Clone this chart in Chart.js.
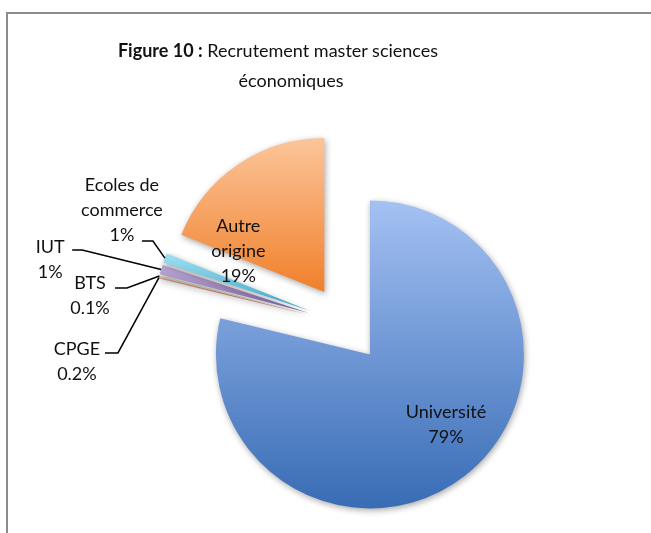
<!DOCTYPE html>
<html lang="fr">
<head>
<meta charset="UTF-8">
<title>Figure 10</title>
<style>
  body { margin: 0; background: #fff; font-family: 'Lato', sans-serif; }
  #wrap { position: relative; width: 651px; height: 533px; overflow: hidden; }
  #frame {
    position: absolute; left: 6px; top: 12px; width: 700px; height: 600px;
    border-left: 2px solid #8c8c8c; border-top: 2px solid #8c8c8c;
  }
  canvas { position: absolute; left: 0; top: 0; }
  .title {
    position: absolute; left: 0; text-align: center; white-space: nowrap;
    font-size: 18px; line-height: 20px; color: #111;
  }
</style>
<script src="https://cdn.jsdelivr.net/npm/chart.js"></script>
</head>
<body>
<div id="wrap">
  <div id="frame"></div>
  <canvas id="chartCanvas" width="651" height="533"></canvas>
  <div class="title" style="top:40px;width:556px"><b>Figure 10 :</b> Recrutement master sciences</div>
  <div class="title" style="top:70px;width:582px">économiques</div>
</div>

<script>
// data
const categories = ['Université', 'CPGE', 'BTS', 'IUT', 'Ecoles de commerce', 'Autre origine'];
const shares = [79, 0.2, 0.1, 1, 1, 19];
const nameLines = [['Université'], ['CPGE'], ['BTS'], ['IUT'], ['Ecoles de', 'commerce'], ['Autre', 'origine']];

// style
const topColors = ['#a4c1f3', '#eba6a4', '#cfe0a9', '#bcaad6', '#9fe0f4', '#fcc59a'];
const bottomColors = ['#386cb5', '#c0504d', '#9bbb59', '#7d60a0', '#3ba4c2', '#f0802b'];
const explode = 38.7;
const pieRadius = 154;
const labelFont = '18px Lato';
const lineGap = 25;
// inner labels: offset from the slice centre; outer labels: offset from the slice edge + leader elbow
const labelLayout = [
  { from: 'center', dx: 76, dy: 70.6 },
  { from: 'edge', dx: -82, dy: 83.8, leader: [[-54, 75.3], [-41, 75.3]] },
  { from: 'edge', dx: -69.4, dy: 19.6, leader: [[-44.4, 12.1], [-32.4, 12.1]] },
  { from: 'edge', dx: -111, dy: -9.6, leader: [[-89, -19.6], [-79, -19.6]] },
  { from: 'edge', dx: -43, dy: -47.6, leader: [[-23, -17], [-12, -17]] },
  { from: 'center', dx: -86, dy: -41 }
];

function arcBox(arc) {
  const { x, y, startAngle, endAngle, outerRadius: r } = arc;
  const ys = [y, y + Math.sin(startAngle) * r, y + Math.sin(endAngle) * r];
  let a = Math.ceil((startAngle - Math.PI / 2) / Math.PI) * Math.PI + Math.PI / 2;
  for (; a <= endAngle; a += Math.PI) ys.push(y + Math.sin(a) * r);
  return { top: Math.min(...ys), bottom: Math.max(...ys) };
}

const explodedPie = {
  id: 'explodedPie',
  afterDatasetUpdate(chart, args) {
    args.meta.data.forEach(arc => {
      const mid = (arc.startAngle + arc.endAngle) / 2;
      arc.x += Math.cos(mid) * explode;
      arc.y += Math.sin(mid) * explode;
    });
  },
  beforeDatasetsDraw(chart) {
    const ctx = chart.ctx;
    chart.getDatasetMeta(0).data.forEach((arc, i) => {
      const box = arcBox(arc);
      const g = ctx.createLinearGradient(0, box.top, 0, box.bottom);
      g.addColorStop(0, topColors[i]);
      g.addColorStop(1, bottomColors[i]);
      arc.options.backgroundColor = g;
    });
    ctx.save();
    ctx.shadowColor = 'rgba(0,0,0,0.35)';
    ctx.shadowBlur = 6;
    ctx.shadowOffsetX = 1;
    ctx.shadowOffsetY = 2;
  },
  afterDatasetsDraw(chart) {
    const ctx = chart.ctx;
    ctx.restore();
    ctx.save();
    ctx.font = labelFont;
    ctx.fillStyle = '#111';
    ctx.strokeStyle = '#000';
    ctx.lineWidth = 1.5;
    ctx.textAlign = 'center';
    ctx.textBaseline = 'middle';
    chart.getDatasetMeta(0).data.forEach((arc, i) => {
      const lay = labelLayout[i];
      const mid = (arc.startAngle + arc.endAngle) / 2;
      let ox = arc.x, oy = arc.y;
      if (lay.from === 'edge') {
        ox += Math.cos(mid) * arc.outerRadius;
        oy += Math.sin(mid) * arc.outerRadius;
      }
      const lines = nameLines[i].concat([shares[i] + '%']);
      const cx = ox + lay.dx;
      const cy = oy + lay.dy;
      lines.forEach((t, k) => {
        ctx.fillText(t, cx, cy + (k - (lines.length - 1) / 2) * lineGap);
      });
      if (lay.leader) {
        ctx.beginPath();
        ctx.moveTo(ox + lay.leader[0][0], oy + lay.leader[0][1]);
        ctx.lineTo(ox + lay.leader[1][0], oy + lay.leader[1][1]);
        ctx.lineTo(ox, oy);
        ctx.stroke();
      }
    });
    ctx.restore();
  }
};

new Chart(document.getElementById('chartCanvas').getContext('2d'), {
  type: 'pie',
  data: {
    labels: categories,
    datasets: [{
      data: shares,
      backgroundColor: bottomColors,
      borderWidth: 0
    }]
  },
  options: {
    responsive: false,
    animation: false,
    radius: pieRadius,
    layout: { padding: { left: 41, top: 115, right: 0, bottom: 0 } },
    plugins: {
      legend: { display: false },
      tooltip: { enabled: false }
    }
  },
  plugins: [explodedPie]
});
</script>
</body>
</html>
